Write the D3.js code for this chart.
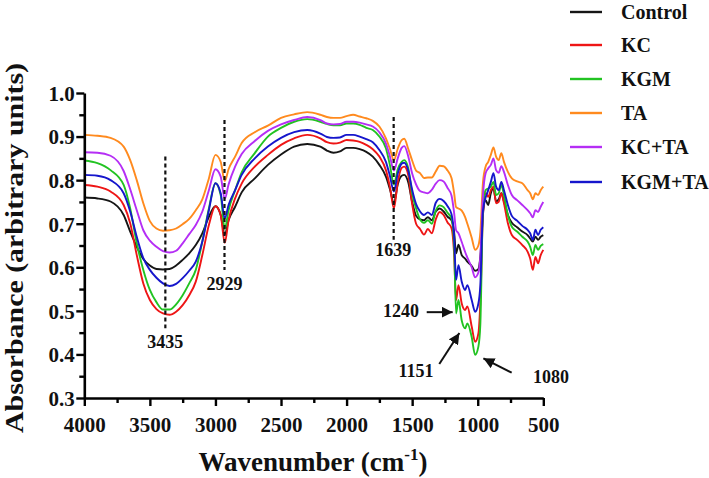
<!DOCTYPE html>
<html>
<head>
<meta charset="utf-8">
<script src="https://cdn.jsdelivr.net/npm/d3@7"></script>
<style>
  html, body { margin: 0; padding: 0; background: #fff; }
  svg { display: block; }
</style>
</head>
<body>
<svg id="chart" width="709" height="478"></svg>
<script>
// ---------------- DATA ----------------
const wavenumbers = [4000,3900,3800,3700,3650,3600,3550,3500,3450,3400,
  3350,3300,3250,3200,3150,3100,3050,3000,2960,2929,
  2900,2850,2800,2700,2600,2500,2400,2300,2200,2150,
  2100,2050,2000,1950,1900,1850,1800,1750,1700,1670,
  1639,1610,1580,1560,1530,1500,1470,1440,1410,1380,
  1350,1320,1290,1260,1230,1200,1180,1165,1147,1122,
  1096,1079,1046,1020,995,980,960,940,920,900,
  880,860,840,820,800,770,740,700,660,620,
  600,580,560,540,520,500];

const seriesNames = ["Control","KC","KGM","TA","KC+TA","KGM+TA"];
const seriesColors = ["#161616","#ee1515","#22c322","#ff8a1e","#b52ef5","#1616cc"];

const control = [.760,.758,.751,.720,.682,.647,.619,.604,.596,.595,
 .596,.604,.617,.632,.651,.678,.716,.740,.720,.675,
 .708,.739,.772,.804,.835,.859,.877,.883,.877,.868,
 .863,.866,.874,.874,.871,.865,.854,.835,.808,.780,
 .747,.790,.810,.812,.795,.750,.718,.710,.708,.715,
 .708,.728,.735,.728,.716,.708,.680,.632,.652,.628,
 .620,.613,.603,.592,.596,.625,.722,.754,.743,.770,
 .781,.751,.756,.770,.751,.720,.702,.692,.682,.674,
 .666,.659,.670,.663,.670,.674];

const kc = [.789,.785,.774,.743,.701,.628,.563,.525,.504,.494,
 .491,.498,.513,.536,.567,.628,.697,.740,.720,.656,
 .708,.758,.792,.831,.858,.881,.896,.904,.896,.887,
 .884,.886,.892,.891,.888,.881,.871,.854,.823,.785,
 .735,.795,.828,.831,.812,.745,.700,.688,.675,.688,
 .678,.710,.727,.720,.703,.690,.630,.525,.559,.517,
 .502,.510,.464,.429,.448,.520,.724,.770,.762,.777,
 .785,.747,.750,.770,.747,.701,.674,.663,.651,.636,
 .620,.594,.624,.609,.628,.640];

const kgm = [.845,.839,.823,.789,.735,.655,.594,.548,.520,.503,
 .503,.515,.536,.563,.594,.659,.735,.793,.766,.688,
 .731,.777,.818,.862,.900,.920,.934,.940,.934,.929,
 .926,.926,.930,.930,.927,.920,.915,.900,.873,.835,
 .790,.825,.842,.846,.828,.770,.735,.710,.702,.708,
 .700,.730,.742,.738,.725,.712,.650,.494,.525,.478,
 .460,.471,.440,.399,.418,.470,.735,.777,.781,.785,
 .796,.766,.770,.789,.766,.720,.693,.682,.670,.659,
 .647,.628,.651,.640,.649,.653];

const ta = [.904,.902,.897,.877,.846,.800,.747,.706,.689,.684,
 .685,.689,.699,.711,.731,.756,.804,.858,.842,.798,
 .825,.854,.885,.910,.925,.943,.951,.956,.950,.945,
 .943,.943,.947,.950,.946,.942,.936,.923,.896,.872,
 .846,.872,.892,.895,.872,.845,.822,.816,.805,.806,
 .806,.820,.833,.832,.822,.805,.770,.738,.735,.730,
 .715,.700,.668,.640,.650,.680,.795,.831,.842,.858,
 .875,.854,.846,.862,.842,.819,.804,.797,.793,.777,
 .770,.756,.770,.766,.777,.785];

const kcTa = [.864,.863,.856,.821,.779,.731,.685,.661,.647,.637,
 .634,.638,.655,.676,.697,.728,.777,.825,.808,.757,
 .790,.831,.860,.890,.913,.928,.938,.945,.938,.930,
 .928,.929,.934,.934,.932,.928,.923,.910,.884,.855,
 .822,.850,.874,.878,.855,.815,.790,.775,.772,.770,
 .778,.792,.800,.797,.782,.765,.725,.685,.678,.658,
 .635,.622,.600,.577,.588,.625,.765,.816,.827,.835,
 .850,.823,.817,.832,.819,.789,.766,.754,.743,.731,
 .724,.715,.731,.727,.739,.750];

const kgmTa = [.812,.810,.800,.770,.728,.670,.621,.594,.576,.563,
 .557,.562,.575,.592,.613,.659,.731,.793,.770,.712,
 .743,.777,.812,.850,.877,.897,.910,.915,.907,.899,
 .897,.898,.904,.904,.900,.894,.887,.869,.842,.810,
 .774,.815,.838,.840,.822,.778,.745,.728,.720,.726,
 .720,.748,.757,.752,.740,.722,.670,.571,.605,.567,
 .548,.559,.525,.498,.517,.560,.730,.760,.777,.796,
 .816,.785,.777,.796,.777,.743,.718,.707,.695,.686,
 .678,.663,.686,.674,.686,.692];

const seriesValues = [control, kc, kgm, ta, kcTa, kgmTa];

const xTicks = [4000,3500,3000,2500,2000,1500,1000,500];
const xMinorTicks = [3750,3250,2750,2250,1750,1250,750];
const yTicks = [0.3,0.4,0.5,0.6,0.7,0.8,0.9,1.0];
const yMinorTicks = [0.35,0.45,0.55,0.65,0.75,0.85,0.95];

// dashed peak markers: [position, top value, bottom value]
const peakLines = [[3382,0.854,0.460],[2931,0.938,0.594],[1641,0.945,0.663]];
// peak labels: [text, position, value(baseline), anchor]
const peakLabels = [
  ["3435",3382,0.415,"middle"],
  ["2929",2931,0.548,"middle"],
  ["1639",1644,0.626,"middle"],
  ["1240",1585,0.486,"middle"],
  ["1151",1470,0.348,"middle"],
  ["1080",578,0.334,"start"]
];
// arrows: [fromPos, fromVal, toPos, toVal]
const arrows = [[1389,0.497,1191,0.497],[1293,0.378,1140,0.449],[741,0.358,957,0.391]];

// ---------------- CHART ----------------
const FONT = '"Liberation Serif", "Times New Roman", Times, "DejaVu Serif", serif';
const svg = d3.select("#chart").attr("font-family", FONT).attr("font-weight","bold");
const x = d3.scaleLinear().domain([4000,500]).range([84.3,543.3]);
const y = d3.scaleLinear().domain([0.3,1.0]).range([398,93]);

// series
const line = d3.line().x(d => x(d[0])).y(d => y(d[1])).curve(d3.curveMonotoneX);
seriesValues.forEach((vals, i) => {
  const pts = wavenumbers.map((w, j) => [w, vals[j]]);
  svg.append("path").datum(pts)
    .attr("d", line)
    .attr("fill","none")
    .attr("stroke", seriesColors[i])
    .attr("stroke-width", 1.9)
    .attr("stroke-linejoin","round");
});

// axes
const xAxis = svg.append("g").attr("transform","translate(0,398)")
  .call(d3.axisBottom(x).tickValues(xTicks).tickSize(8).tickSizeOuter(0).tickFormat(d3.format("d")));
const xMinor = svg.append("g").attr("transform","translate(0,398)")
  .call(d3.axisBottom(x).tickValues(xMinorTicks).tickSize(5).tickSizeOuter(0).tickFormat(""));
const yAxis = svg.append("g").attr("transform","translate(84.3,0)")
  .call(d3.axisLeft(y).tickValues(yTicks).tickSize(8).tickSizeOuter(0).tickFormat(d3.format(".1f")));
const yMinor = svg.append("g").attr("transform","translate(84.3,0)")
  .call(d3.axisLeft(y).tickValues(yMinorTicks).tickSize(5).tickSizeOuter(0).tickFormat(""));

[xAxis,xMinor,yAxis,yMinor].forEach(g => {
  g.attr("font-family", FONT).attr("font-size", 21).attr("font-weight","bold");
  g.selectAll("path.domain").attr("stroke","#000").attr("stroke-width",2.6);
  g.selectAll(".tick line").attr("stroke","#000").attr("stroke-width",2.4);
});
xMinor.select("path.domain").remove();
yMinor.select("path.domain").remove();

xAxis.selectAll("text").attr("y",34).attr("dy",0).attr("fill","#111");
yAxis.selectAll("text").attr("x",-9.5).attr("dy","0.35em").attr("fill","#111");

// dashed peak lines
peakLines.forEach(p => {
  svg.append("line")
    .attr("x1", x(p[0])).attr("x2", x(p[0]))
    .attr("y1", y(p[1])).attr("y2", y(p[2]))
    .attr("stroke","#111").attr("stroke-width",2.2)
    .attr("stroke-dasharray","4,3");
});

peakLabels.forEach(l => {
  svg.append("text")
    .attr("x", x(l[1])).attr("y", y(l[2]))
    .attr("text-anchor", l[3])
    .attr("font-size", 18)
    .attr("fill","#111")
    .text(l[0]);
});

// arrows
svg.append("defs").append("marker")
  .attr("id","arrowHead").attr("viewBox","0 0 10 10")
  .attr("refX",10).attr("refY",5)
  .attr("markerWidth",11).attr("markerHeight",11)
  .attr("markerUnits","userSpaceOnUse")
  .attr("orient","auto")
  .append("path").attr("d","M0,0 L10,5 L0,10 Z").attr("fill","#111");
arrows.forEach(a => {
  svg.append("line")
    .attr("x1", x(a[0])).attr("y1", y(a[1]))
    .attr("x2", x(a[2])).attr("y2", y(a[3]))
    .attr("stroke","#111").attr("stroke-width",2)
    .attr("marker-end","url(#arrowHead)");
});

// axis titles
svg.append("text")
  .attr("transform","translate(23,248) rotate(-90)")
  .attr("text-anchor","middle")
  .attr("font-size", 26)
  .attr("fill","#111")
  .attr("textLength", 370)
  .attr("lengthAdjust","spacingAndGlyphs")
  .text("Absorbance (arbitrary units)");

const xt = svg.append("text")
  .attr("x", 313).attr("y", 471)
  .attr("text-anchor","middle")
  .attr("font-size", 27)
  .attr("fill","#111");
xt.append("tspan").text("Wavenumber (cm");
xt.append("tspan").attr("dy",-11).attr("font-size",17).text("-1");
xt.append("tspan").attr("dy",11).text(")");

// legend
const legendY = [12,45,79,113,147,182];
seriesNames.forEach((name, i) => {
  svg.append("line")
    .attr("x1",570).attr("x2",602)
    .attr("y1",legendY[i]).attr("y2",legendY[i])
    .attr("stroke",seriesColors[i]).attr("stroke-width",2.4);
  svg.append("text")
    .attr("x",621).attr("y",legendY[i]).attr("dy","0.35em")
    .attr("font-size", 20)
    .attr("fill","#111")
    .text(name);
});
</script>
</body>
</html>
